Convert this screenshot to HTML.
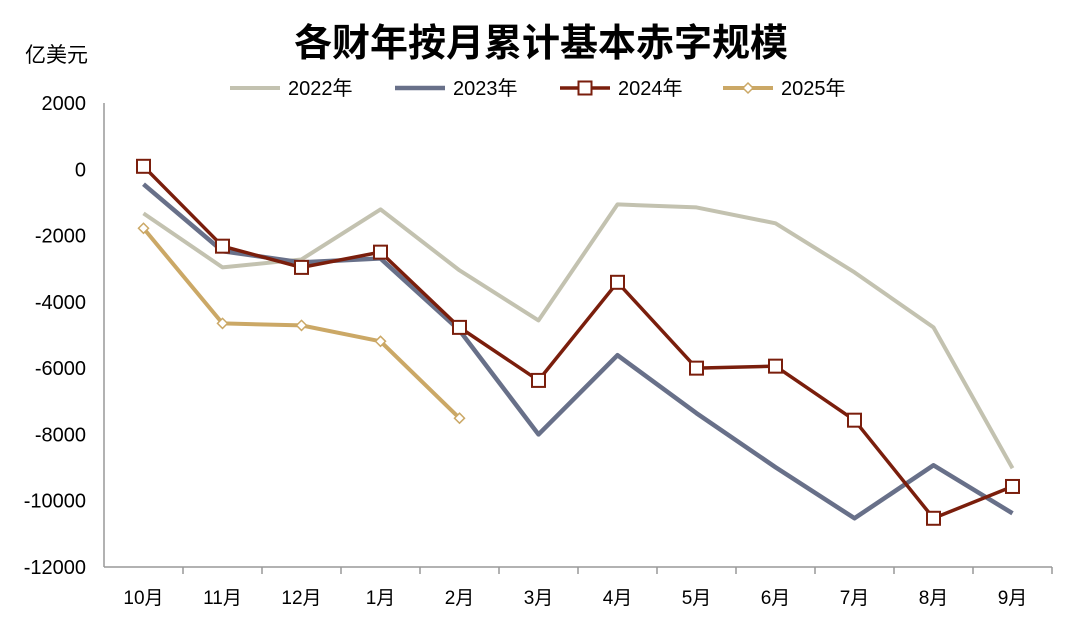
<!DOCTYPE html>
<html><head><meta charset="utf-8"><style>
body{margin:0;background:#fff;}
svg text{font-family:"Liberation Sans","Noto Sans CJK SC",sans-serif;}
</style></head><body>
<svg id="chart" width="1080" height="613" xmlns="http://www.w3.org/2000/svg">
<text x="541" y="56" text-anchor="middle" font-size="38" font-weight="bold" fill="#000">各财年按月累计基本赤字规模</text>
<text x="25" y="62" font-size="21" fill="#000">亿美元</text>
<g id="legend"></g>
<g id="axes"></g>
<g id="series"></g>
</svg>
<script>
const categories=["10月","11月","12月","1月","2月","3月","4月","5月","6月","7月","8月","9月"];
const yTicks=[2000,0,-2000,-4000,-6000,-8000,-10000,-12000];
const s2022=[-1330,-2960,-2720,-1210,-3050,-4560,-1060,-1150,-1630,-3110,-4770,-9020];
const s2023=[-450,-2470,-2810,-2690,-4860,-8000,-5610,-7360,-8990,-10530,-8930,-10380];
const s2024=[90,-2320,-2960,-2500,-4770,-6370,-3410,-6000,-5940,-7570,-10530,-9570];
const s2025=[-1780,-4650,-4710,-5190,-7510];
const seriesNames=["2022年","2023年","2024年","2025年"];

const NS="http://www.w3.org/2000/svg";
const L=104,R=1052,T=103,B=567,yMax=2000,yMin=-12000;
const step=(R-L)/categories.length;
const xs=i=>L+(i+0.5)*step;
const ys=v=>T+(yMax-v)/(yMax-yMin)*(B-T);
function mk(tag,attrs,parent){const e=document.createElementNS(NS,tag);for(const k in attrs)e.setAttribute(k,attrs[k]);parent.appendChild(e);return e;}
const axes=document.getElementById('axes');
let yl=mk('line',{x1:L,y1:T,x2:L,y2:B,stroke:'#999','stroke-width':1.5},axes);


let xl=mk('line',{x1:L,y1:B,x2:R,y2:B,stroke:'#999','stroke-width':1.5},axes);


yTicks.forEach(v=>{const t=mk('text',{x:86,y:ys(v)+7,'text-anchor':'end','font-size':20,fill:'#000'},axes);t.textContent=v;

});
categories.forEach((c,i)=>{const t=mk('text',{x:xs(i),y:604,'text-anchor':'middle','font-size':19,fill:'#000'},axes);t.textContent=c;


const tk=mk('line',{x1:L+(i+1)*step,y1:B,x2:L+(i+1)*step,y2:B+7,stroke:'#999','stroke-width':1.5},axes);

});
const sg=document.getElementById('series');
const styles=[{c:'#c3c2b0',w:4},{c:'#687089',w:4.5},{c:'#7a1e0c',w:3.5},{c:'#cba866',w:4}];
const data=[s2022,s2023,s2024,s2025];
data.forEach((d,k)=>{
 const pts=d.map((v,i)=>xs(i)+','+ys(v)).join(' ');
 const pl=mk('polyline',{points:pts,fill:'none',stroke:styles[k].c,'stroke-width':styles[k].w,'stroke-linejoin':'round'},sg);
 
 
 if(k===2)d.forEach((v,i)=>{const r=mk('rect',{x:xs(i)-6.5,y:ys(v)-6.5,width:13,height:13,fill:'#fff',stroke:styles[2].c,'stroke-width':2},sg);
  
  });
 if(k===3)d.forEach((v,i)=>{const x=xs(i),y=ys(v);const p=mk('polygon',{points:`${x},${y-5} ${x+5},${y} ${x},${y+5} ${x-5},${y}`,fill:'#fff',stroke:styles[3].c,'stroke-width':1.5},sg);
  
  });
});
const lg=document.getElementById('legend');
const lx=[230,395,560,723];
seriesNames.forEach((n,k)=>{
 const ln=mk('line',{x1:lx[k],y1:88,x2:lx[k]+50,y2:88,stroke:styles[k].c,'stroke-width':styles[k].w},lg);
 
 
 if(k===2){const r=mk('rect',{x:lx[k]+18.5,y:81.5,width:13,height:13,fill:'#fff',stroke:styles[2].c,'stroke-width':2},lg);
  
  }
 if(k===3){const x=lx[k]+25;const p=mk('polygon',{points:`${x},83 ${x+5},88 ${x},93 ${x-5},88`,fill:'#fff',stroke:styles[3].c,'stroke-width':1.5},lg);
  
  }
 const t=mk('text',{x:lx[k]+58,y:95,'font-size':20,fill:'#000'},lg);t.textContent=n;
 
 
});
</script>
</body></html>
